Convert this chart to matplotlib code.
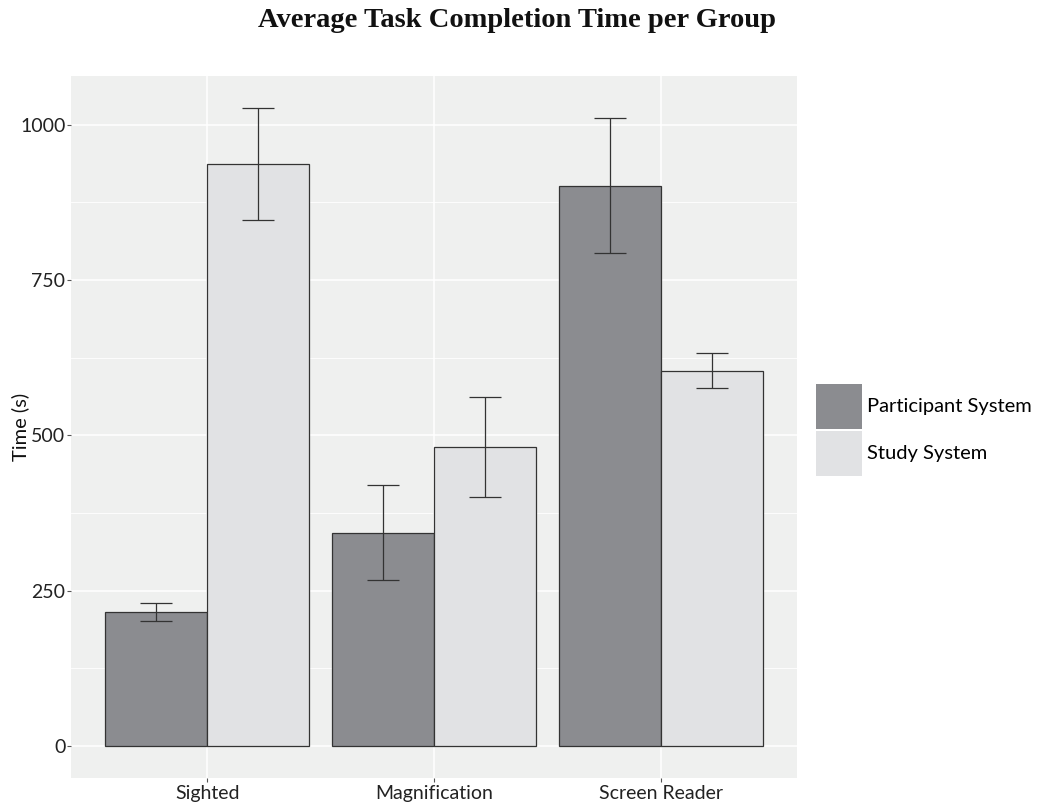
import numpy as np
import matplotlib.pyplot as plt
from matplotlib.patches import Patch

groups = ['Sighted', 'Magnification', 'Screen Reader']
participant = [216, 343, 902]
participant_lo = [201, 267, 794]
participant_hi = [230, 420, 1011]
study = [937, 481, 604]
study_lo = [847, 401, 576]
study_hi = [1027, 562, 633]

dark = '#8b8c90'
light = '#e1e2e4'
panel = '#eff0ef'
sans = 'Lato'

fig = plt.figure(figsize=(10.45, 8.05), dpi=100)
ax = fig.add_axes([71/1045, 1 - 778/805, (797-71)/1045, (778-76)/805])
ax.set_facecolor(panel)

x = np.arange(1, len(groups) + 1)
w = 0.45
ax.bar(x - w/2, participant, width=w, color=dark, edgecolor='#333333', linewidth=0.9, zorder=3)
ax.bar(x + w/2, study, width=w, color=light, edgecolor='#333333', linewidth=0.9, zorder=3)

for xs, mean, lo, hi in [(x - w/2, participant, participant_lo, participant_hi),
                         (x + w/2, study, study_lo, study_hi)]:
    mean = np.array(mean)
    err = [mean - np.array(lo), np.array(hi) - mean]
    ax.errorbar(xs, mean, yerr=err, fmt='none', ecolor='#333333', elinewidth=0.9,
                capsize=11.5, capthick=0.9, zorder=4)

ax.set_xlim(0.4, 3.6)
ax.set_ylim(-51.4, 1078.6)
ax.set_yticks([0, 250, 500, 750, 1000])
ax.set_yticks([125, 375, 625, 875], minor=True)
ax.set_xticks(x)
ax.set_xticklabels(groups, fontfamily=sans, fontsize=14, color='#222222')
for lab in ax.get_yticklabels():
    lab.set_fontfamily(sans)
    lab.set_fontsize(14)
    lab.set_color('#222222')
ax.tick_params(which='major', length=3, color='#555555', width=0.8, pad=2)
ax.tick_params(axis='y', pad=1)
ax.tick_params(which='minor', length=0)
ax.grid(which='major', color='white', linewidth=1.1, zorder=0)
ax.grid(which='minor', axis='y', color='white', linewidth=0.6, zorder=0)
ax.set_axisbelow(True)
for s in ax.spines.values():
    s.set_visible(False)

ax.set_ylabel('Time (s)', fontfamily=sans, fontsize=14.5, color='#111111')
ax.yaxis.set_label_coords(-42/726, 0.5)

handles = [Patch(facecolor=dark, edgecolor='none'), Patch(facecolor=light, edgecolor='none')]
fig.legend(handles, ['Participant System', 'Study System'], loc='center left',
           bbox_to_anchor=(808/1045, 1 - 430/805), frameon=False,
           prop={'family': sans, 'size': 14.5}, handlelength=2.3, handleheight=3.1,
           handletextpad=0.25, labelspacing=0.08, borderaxespad=0)

fig.suptitle('Average Task Completion Time per Group', x=0.495, y=0.99,
             fontfamily='Liberation Serif', fontweight='bold', fontsize=20.5, color='#111111')

fig.savefig('out.png', dpi=100)
